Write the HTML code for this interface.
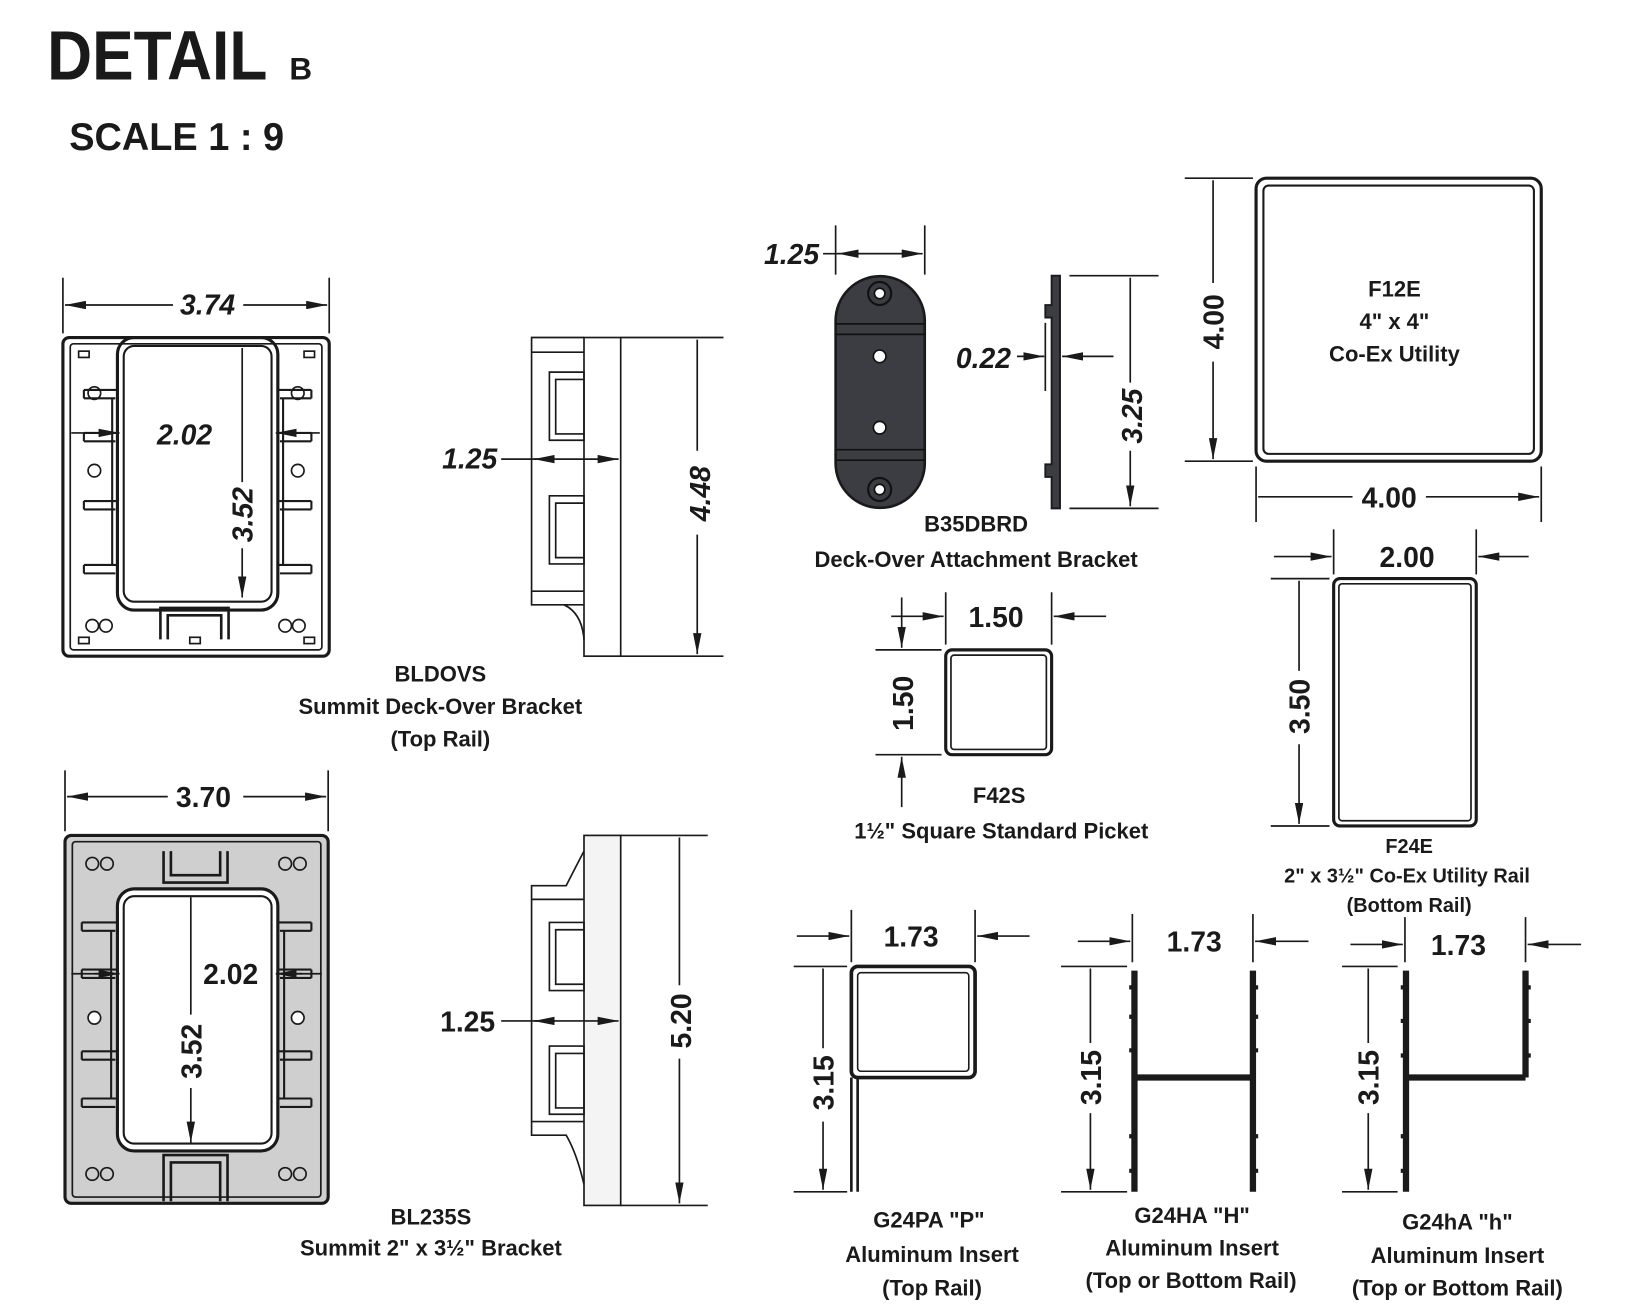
<!DOCTYPE html>
<html><head><meta charset="utf-8"><style>
html,body{margin:0;padding:0;background:#fff;}
svg{display:block;}
text{font-family:"Liberation Sans",sans-serif;fill:#1a1a1a;}
.lb{font-size:21px;font-weight:bold;text-anchor:middle;}
.dm{font-size:27px;font-weight:bold;text-anchor:middle;}
.it{font-style:italic;}
</style></head><body>
<svg width="1644" height="1305" viewBox="0 0 1568 1245" preserveAspectRatio="none" xmlns="http://www.w3.org/2000/svg">
<defs>
<marker id="a" viewBox="0 0 20 8" refX="20" refY="4" markerWidth="20" markerHeight="8" markerUnits="userSpaceOnUse" orient="auto-start-reverse"><path d="M0,0 L20,4 L0,8 z" fill="#1a1a1a"/></marker>
</defs>
<text x="45" y="76" textLength="210" lengthAdjust="spacingAndGlyphs" style="font-size:66px;font-weight:bold;">DETAIL</text>
<text x="276" y="76" style="font-size:30px;font-weight:bold;">B</text>
<text x="66" y="143" textLength="205" lengthAdjust="spacingAndGlyphs" style="font-size:37px;font-weight:bold;">SCALE 1 : 9</text>

<g stroke="#1a1a1a" fill="none" stroke-width="1.6">
<!-- BLDOVS front -->
<rect x="60" y="322" width="254" height="304" rx="6" stroke-width="3"/>
<rect x="67" y="328" width="240" height="292" rx="3"/>
<rect x="112" y="322" width="153" height="260" rx="16" stroke-width="3"/>
<rect x="118" y="330" width="141" height="244" rx="10" stroke-width="2"/>
<path d="M80,372 H112 M80,380 H110 M80,413 H112 M80,421 H110 M80,478 H112 M80,486 H110 M80,539 H112 M80,547 H110 M80,372 V380 M80,413 V421 M80,478V486 M80,539V547 M107,380 V539" stroke-width="2"/>
<path d="M297,372 H265 M297,380 H267 M297,413 H265 M297,421 H267 M297,478 H265 M297,486 H267 M297,539 H265 M297,547 H267 M297,372 V380 M297,413 V421 M297,478V486 M297,539V547 M270,380 V539" stroke-width="2"/>
<circle cx="90" cy="375" r="6"/><circle cx="90" cy="449" r="6"/><circle cx="284" cy="375" r="6"/><circle cx="284" cy="449" r="6"/>
<circle cx="88" cy="597" r="6"/><circle cx="101" cy="597" r="6"/><circle cx="272" cy="597" r="6"/><circle cx="285" cy="597" r="6"/>
<path d="M153,610 V580 H218 V610 M160,610 V587 H211 V610" stroke-width="2.5"/>
<rect x="75" y="335" width="10" height="6"/><rect x="290" y="335" width="10" height="6"/><rect x="75" y="608" width="10" height="6"/><rect x="181" y="608" width="10" height="6"/><rect x="290" y="608" width="10" height="6"/>
<path d="M60,265 V318 M314,265 V318"/>
<path d="M62,291 H165 M232,291 H312" marker-start="url(#a)" marker-end="url(#a)"/>
<path d="M68,413 H112 M265,413 H305" />
<path d="M95,413 H114" marker-end="url(#a)"/><path d="M285,413 H263" marker-end="url(#a)"/>
<path d="M231,460 V332 M231,523 V570" marker-end="url(#a)"/>
<!-- BLDOVS side -->
<rect x="557" y="322" width="35" height="304"/>
<path d="M557,322 H507 V577 H557 M507,336 H557 M507,564 H557 M538,577 Q555,585 557,610"/>
<path d="M524,355 H557 V420 H524 Z M530,362 H557 V414 H530 Z M524,473 H557 V538 H524 Z M530,480 H557 V532 H530 Z"/>
<path d="M592,322 H690 M592,626 H690"/>
<path d="M665,430 V324 M665,510 V624" marker-end="url(#a)"/>
<path d="M478,438 H530" /><path d="M530,438 H509" marker-end="url(#a)"/><path d="M530,438 H590" marker-end="url(#a)"/>

<!-- BL235S front -->
<rect x="62" y="797" width="251" height="351" rx="6" fill="#cfcfcf" stroke-width="3"/>
<rect x="69" y="803" width="237" height="339" rx="3"/>
<rect x="112" y="848" width="153" height="250" rx="16" fill="#fff" stroke-width="3"/>
<rect x="118" y="855" width="141" height="236" rx="10" stroke-width="2"/>
<path d="M78,880 H112 M78,888 H110 M78,925 H112 M78,933 H110 M78,1003 H112 M78,1011 H110 M78,1048 H112 M78,1056 H110 M78,880V888 M78,925V933 M78,1003V1011 M78,1048V1056 M106,888 V1048" stroke-width="2"/>
<path d="M297,880 H265 M297,888 H267 M297,925 H265 M297,933 H267 M297,1003 H265 M297,1011 H267 M297,1048 H265 M297,1056 H267 M297,880V888 M297,925V933 M297,1003V1011 M297,1048V1056 M271,888 V1048" stroke-width="2"/>
<circle cx="90" cy="971" r="6" fill="#fff"/><circle cx="284" cy="971" r="6" fill="#fff"/>
<circle cx="88" cy="824" r="6"/><circle cx="102" cy="824" r="6"/><circle cx="272" cy="824" r="6"/><circle cx="286" cy="824" r="6"/>
<circle cx="88" cy="1120" r="6"/><circle cx="102" cy="1120" r="6"/><circle cx="272" cy="1120" r="6"/><circle cx="286" cy="1120" r="6"/>
<path d="M156,812 V842 H217 V812 M163,812 V835 H210 V812" stroke-width="2.5"/>
<path d="M156,1146 V1102 H217 V1146 M163,1146 V1109 H210 V1146" stroke-width="2.5"/>
<path d="M62,735 V793 M313,735 V793"/>
<path d="M64,760 H160 M232,760 H311" marker-start="url(#a)" marker-end="url(#a)"/>
<path d="M68,929 H112 M265,929 H307"/>
<path d="M90,929 H114" marker-end="url(#a)"/><path d="M288,929 H263" marker-end="url(#a)"/>
<path d="M182,968 V856 M182,1038 V1090" marker-end="url(#a)"/>
<!-- BL235S side -->
<rect x="557" y="797" width="35" height="353" fill="#f4f4f4"/>
<path d="M557,812 Q545,835 540,845 H507 V1083 H540 Q550,1100 557,1130 M507,858 H557 M507,1070 H557"/>
<path d="M524,880 H557 V945 H524 Z M530,887 H557 V939 H530 Z M524,998 H557 V1063 H524 Z M530,1005 H557 V1057 H530 Z"/>
<path d="M592,797 H675 M592,1150 H675"/>
<path d="M648,940 V799 M648,1010 V1148" marker-end="url(#a)"/>
<path d="M478,974 H530"/><path d="M530,974 H509" marker-end="url(#a)"/><path d="M530,974 H590" marker-end="url(#a)"/>

<!-- B35DBRD -->
<path d="M797,306 A42.5,42.5 0 0 1 882,306 V442 A42.5,42.5 0 0 1 797,442 Z" fill="#3c3d42" stroke-width="2.5"/>
<path d="M797,309 H882 M797,319 H882 M797,429 H882 M797,439 H882" stroke="#111"/>
<circle cx="839" cy="280" r="11" fill="#3c3d42" stroke="#111" stroke-width="2"/><circle cx="839" cy="280" r="5" fill="#fff" stroke="#111"/>
<circle cx="839" cy="467" r="11" fill="#3c3d42" stroke="#111" stroke-width="2"/><circle cx="839" cy="467" r="5" fill="#fff" stroke="#111"/>
<circle cx="839" cy="340" r="6" fill="#fff" stroke="#111"/><circle cx="839" cy="408" r="6" fill="#fff" stroke="#111"/>
<path d="M797,215 V262 M882,215 V262"/>
<path d="M785,242 H880" marker-end="url(#a)"/><path d="M860,242 H799" marker-end="url(#a)"/>
<path d="M1003,263 H1011 V485 H1003 V455 H997 V443 H1003 V303 H997 V291 H1003 Z" fill="#3c3d42" stroke-width="1.8"/>
<path d="M997,308 V373"/>
<path d="M970,340 H996" marker-end="url(#a)"/><path d="M1062,340 H1013" marker-end="url(#a)"/>
<path d="M1020,263 H1105 M1020,485 H1105"/>
<path d="M1078,365 V265 M1078,430 V483" marker-end="url(#a)"/>

<!-- F12E -->
<rect x="1198" y="170" width="272" height="270" rx="10" stroke-width="3"/>
<rect x="1205" y="177" width="258" height="256" rx="5" stroke-width="2"/>
<path d="M1130,170 H1195 M1130,440 H1195"/>
<path d="M1157,270 V172 M1157,345 V438" marker-end="url(#a)"/>
<path d="M1198,445 V498 M1470,445 V498"/>
<path d="M1290,474 H1200 M1360,474 H1468" marker-end="url(#a)"/>

<!-- F42S -->
<rect x="902" y="620" width="101" height="100" rx="6" stroke-width="3"/>
<rect x="907" y="625" width="91" height="90" rx="3"/>
<path d="M902,565 V615 M1003,565 V615"/>
<path d="M850,588 H900" marker-end="url(#a)"/><path d="M1055,588 H1005" marker-end="url(#a)"/>
<path d="M835,620 H898 M835,720 H898"/>
<path d="M860,570 V618" marker-end="url(#a)"/><path d="M860,770 V722" marker-end="url(#a)"/>

<!-- F24E -->
<rect x="1272" y="552" width="136" height="236" rx="6" stroke-width="3"/>
<rect x="1277" y="557" width="126" height="226" rx="3"/>
<path d="M1272,505 V548 M1408,505 V548"/>
<path d="M1215,531 H1270" marker-end="url(#a)"/><path d="M1458,531 H1410" marker-end="url(#a)"/>
<path d="M1212,552 H1268 M1212,788 H1268"/>
<path d="M1239,640 V554 M1239,710 V786" marker-end="url(#a)"/>

<!-- G24PA -->
<rect x="812" y="922" width="118" height="106" rx="6" stroke-width="3.5"/>
<rect x="818" y="928" width="106" height="94" rx="3" stroke-width="1.5"/>
<path d="M812,1028 V1137 M818,1028 V1137" stroke-width="2.5"/>
<path d="M812,868 V918 M930,868 V918"/>
<path d="M760,893 H810" marker-end="url(#a)"/><path d="M982,893 H932" marker-end="url(#a)"/>
<path d="M757,922 H808 M757,1137 H808"/>
<path d="M785,1000 V924 M785,1070 V1135" marker-end="url(#a)"/>

<!-- G24HA -->
<path d="M1082,926 V1137 M1195,926 V1137 M1082,1028 H1195" stroke-width="6"/>
<path d="M1079,940 v4 M1079,968 v4 M1079,1000 v4 M1079,1082 v4 M1079,1115 v4 M1198,940 v4 M1198,968 v4 M1198,1000 v4 M1198,1082 v4 M1198,1115 v4" stroke-width="4"/>
<path d="M1080,872 V918 M1195,872 V918"/>
<path d="M1028,898 H1078" marker-end="url(#a)"/><path d="M1248,898 H1197" marker-end="url(#a)"/>
<path d="M1012,922 H1075 M1012,1137 H1075"/>
<path d="M1040,995 V924 M1040,1062 V1135" marker-end="url(#a)"/>

<!-- G24hA -->
<path d="M1341,926 V1137 M1455,926 V1028 M1341,1028 H1455" stroke-width="6"/>
<path d="M1338,940 v4 M1338,972 v4 M1338,1005 v4 M1338,1082 v4 M1338,1115 v4 M1458,940 v4 M1458,972 v4 M1458,1005 v4" stroke-width="4"/>
<path d="M1340,875 V918 M1455,875 V918"/>
<path d="M1288,901 H1338" marker-end="url(#a)"/><path d="M1508,901 H1457" marker-end="url(#a)"/>
<path d="M1280,922 H1333 M1280,1137 H1333"/>
<path d="M1305,995 V924 M1305,1062 V1135" marker-end="url(#a)"/>
</g>

<!-- dimension texts -->
<text class="dm it" x="198" y="300">3.74</text>
<text class="dm it" x="176" y="424">2.02</text>
<text class="dm it" transform="translate(241,491) rotate(-90)">3.52</text>
<text class="dm it" x="448" y="447">1.25</text>
<text class="dm it" transform="translate(677,471) rotate(-90)">4.48</text>
<text class="dm" x="194" y="770">3.70</text>
<text class="dm" x="220" y="939">2.02</text>
<text class="dm" transform="translate(192,1003) rotate(-90)">3.52</text>
<text class="dm" x="446" y="984">1.25</text>
<text class="dm" transform="translate(659,974) rotate(-90)">5.20</text>
<text class="dm it" x="755" y="252">1.25</text>
<text class="dm it" x="938" y="351">0.22</text>
<text class="dm it" transform="translate(1089,397) rotate(-90)">3.25</text>
<text class="dm" transform="translate(1167,307) rotate(-90)">4.00</text>
<text class="dm" x="1325" y="484">4.00</text>
<text class="dm" x="950" y="598">1.50</text>
<text class="dm" transform="translate(871,671) rotate(-90)">1.50</text>
<text class="dm" x="1342" y="541">2.00</text>
<text class="dm" transform="translate(1249,674) rotate(-90)">3.50</text>
<text class="dm" x="869" y="903">1.73</text>
<text class="dm" transform="translate(795,1033) rotate(-90)">3.15</text>
<text class="dm" x="1139" y="908">1.73</text>
<text class="dm" transform="translate(1050,1028) rotate(-90)">3.15</text>
<text class="dm" x="1391" y="911">1.73</text>
<text class="dm" transform="translate(1315,1028) rotate(-90)">3.15</text>

<!-- labels -->
<text class="lb" x="1330" y="283">F12E</text>
<text class="lb" x="1330" y="314">4" x 4"</text>
<text class="lb" x="1330" y="345">Co-Ex Utility</text>
<text class="lb" x="420" y="650">BLDOVS</text>
<text class="lb" x="420" y="681">Summit Deck-Over Bracket</text>
<text class="lb" x="420" y="712">(Top Rail)</text>
<text class="lb" x="931" y="507">B35DBRD</text>
<text class="lb" x="931" y="541">Deck-Over Attachment Bracket</text>
<text class="lb" x="953" y="766">F42S</text>
<text class="lb" x="955" y="800">1½" Square Standard Picket</text>
<text class="lb" x="1344" y="814" style="font-size:19px">F24E</text>
<text class="lb" x="1342" y="842" style="font-size:19px">2" x 3½" Co-Ex Utility Rail</text>
<text class="lb" x="1344" y="870" style="font-size:19px">(Bottom Rail)</text>
<text class="lb" x="411" y="1168">BL235S</text>
<text class="lb" x="411" y="1198">Summit 2" x 3½" Bracket</text>
<text class="lb" x="886" y="1171">G24PA "P"</text>
<text class="lb" x="889" y="1204">Aluminum Insert</text>
<text class="lb" x="889" y="1236">(Top Rail)</text>
<text class="lb" x="1137" y="1167">G24HA "H"</text>
<text class="lb" x="1137" y="1198">Aluminum Insert</text>
<text class="lb" x="1136" y="1229">(Top or Bottom Rail)</text>
<text class="lb" x="1390" y="1173">G24hA "h"</text>
<text class="lb" x="1390" y="1205">Aluminum Insert</text>
<text class="lb" x="1390" y="1236">(Top or Bottom Rail)</text>
</svg>
</body></html>
